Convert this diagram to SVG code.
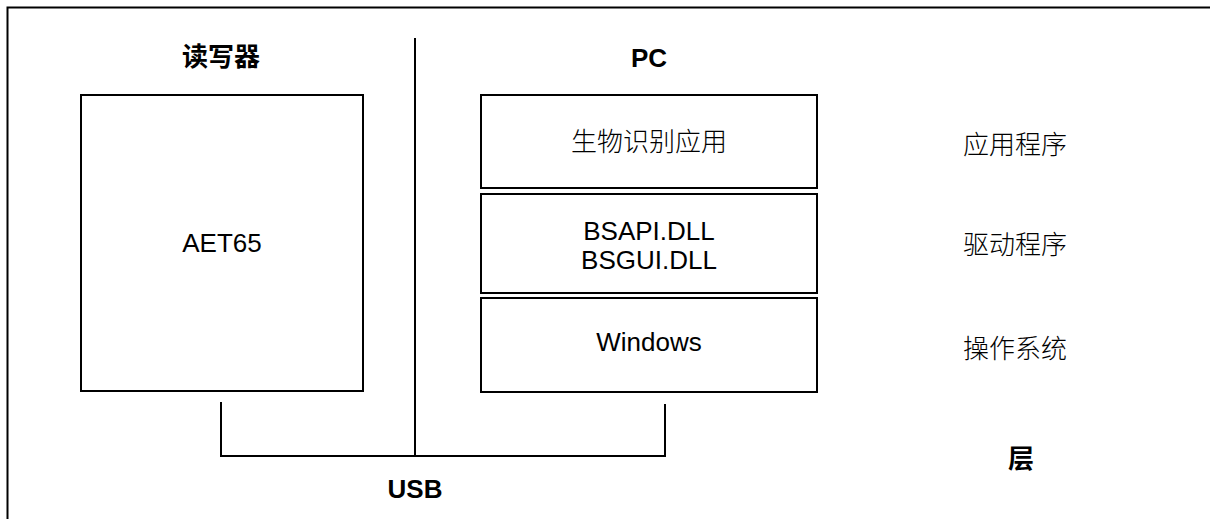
<svg xmlns="http://www.w3.org/2000/svg" width="1210" height="519" viewBox="0 0 1210 519">
<style>
.box{fill:#fff;stroke:#000;stroke-width:2}
.ln{fill:none;stroke:#000;stroke-width:2}
.t{font-family:"Liberation Sans","Noto Sans CJK SC",sans-serif;font-size:26px;fill:#000;text-anchor:middle}
.b{font-weight:bold}
.c{font-family:"Noto Sans CJK SC","Liberation Sans",sans-serif;font-size:26px;fill:#000;text-anchor:middle}
.l{font-weight:300}
</style>
<rect width="1210" height="519" fill="#fff"/>
<path class="ln" d="M7.5,519 V7.5 H1210"/>
<text class="c b" x="221" y="66">读写器</text>
<text class="t b" x="649" y="67">PC</text>
<g id="connectors">
<path class="ln" d="M415,38 V456"/>
<path class="ln" d="M221,402 V456 H665 V404"/>
</g>
<g id="reader"><rect class="box" x="81" y="95" width="282" height="296"/><text class="t" x="222" y="252">AET65</text></g>
<g id="app"><rect class="box" x="481" y="95" width="336" height="93"/><text class="c l" x="649" y="151">生物识别应用</text></g>
<g id="driver"><rect class="box" x="481" y="194" width="336" height="99"/><text class="t" x="649" y="240">BSAPI.DLL</text><text class="t" x="649" y="269">BSGUI.DLL</text></g>
<g id="os"><rect class="box" x="481" y="298" width="336" height="94"/><text class="t" x="649" y="351">Windows</text></g>
<text class="c l" x="1015" y="154">应用程序</text>
<text class="c l" x="1015" y="254">驱动程序</text>
<text class="c l" x="1015" y="358">操作系统</text>
<text class="c b" x="1021" y="468">层</text>
<text class="t b" x="415" y="498">USB</text>
</svg>
